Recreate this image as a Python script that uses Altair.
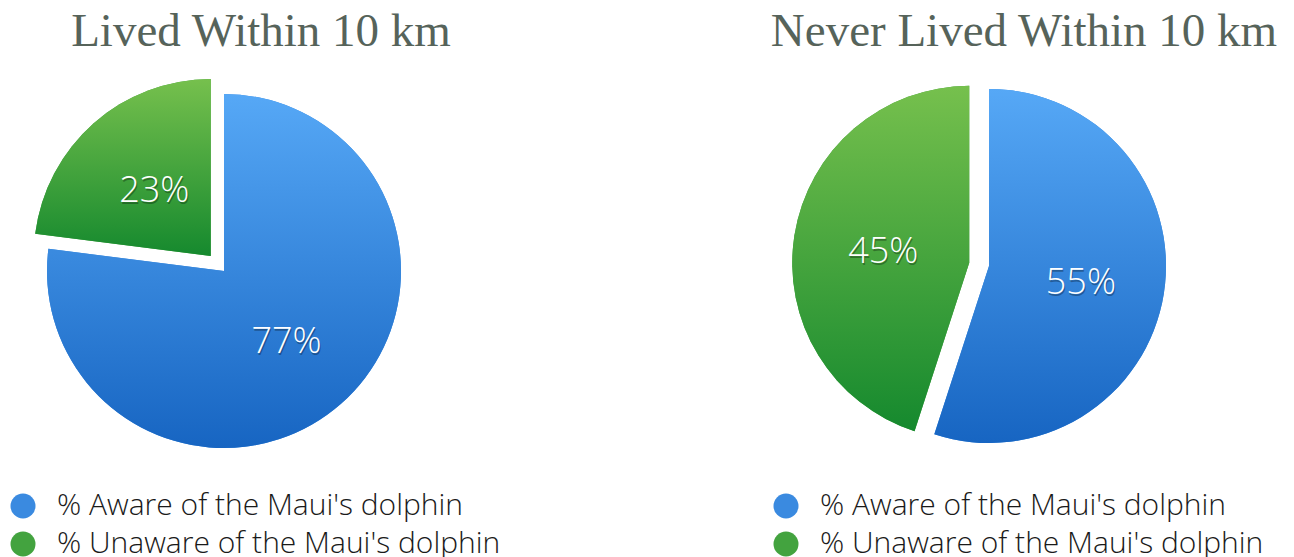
import altair as alt
import pandas as pd

# ---- data ----
panel_titles = ["Lived Within 10 km", "Never Lived Within 10 km"]
categories = ["% Aware of the Maui's dolphin", "% Unaware of the Maui's dolphin"]
lived_values = [77, 23]
never_values = [55, 45]

# ---- style / layout ----
R = 177
EXPLODE = 20
LABEL_R = 90
PANEL_W = 506
PANEL_H = 480
BLUE_TOP, BLUE_BOT, BLUE_MID = "#56a8f6", "#1765c2", "#3a8ae0"
GREEN_TOP, GREEN_BOT, GREEN_MID = "#76c04d", "#15892e", "#43a33f"
TITLE_COLOR = "#56635a"
LABEL_FONT = "Open Sans"


def grad(top, bot):
    return alt.LinearGradient(
        gradient="linear",
        stops=[alt.GradientStop(color=top, offset=0), alt.GradientStop(color=bot, offset=1)],
        x1=0, x2=0, y1=0, y2=1,
    )


def panel(title, values, cx, cy):
    df = pd.DataFrame({"category": categories, "value": values, "idx": list(range(len(values)))})
    base = (
        alt.Chart(df)
        .transform_window(cum="sum(value)", sort=[alt.SortField("idx")], frame=[None, 0])
        .transform_calculate(
            start="datum.cum - datum.value",
            midv="datum.cum - datum.value / 2",
            ang="(datum.cum - datum.value / 2) / 100 * 2 * PI",
            label="datum.value + '%'",
        )
        .transform_calculate(ex=f"datum.idx == 1 ? {EXPLODE} : 0")
        .transform_calculate(
            cx=f"{cx} + datum.ex * sin(datum.ang)",
            cy=f"{cy} - datum.ex * cos(datum.ang)",
        )
    )
    theta_scale = alt.Scale(domain=[0, 100])
    enc = dict(
        x=alt.X("cx:Q", scale=None),
        y=alt.Y("cy:Q", scale=None),
        theta=alt.Theta("start:Q", scale=theta_scale, stack=False),
        theta2="cum:Q",
    )
    flat = base.mark_arc(radius=R).encode(
        color=alt.Color(
            "category:N",
            scale=alt.Scale(domain=categories, range=[BLUE_MID, GREEN_MID]),
            legend=alt.Legend(
                orient="none", legendX=0, legendY=431, title=None,
                labelFont=LABEL_FONT, labelFontWeight=300, labelFontSize=30,
                labelColor="#1a1a1a", labelLimit=700, labelOffset=19,
                symbolType="circle", symbolSize=625, symbolStrokeWidth=0,
                rowPadding=8, padding=0,
            ),
        ),
        **enc,
    )
    blue = base.transform_filter("datum.idx == 0").mark_arc(radius=R, fill=grad(BLUE_TOP, BLUE_BOT)).encode(**enc)
    green = base.transform_filter("datum.idx == 1").mark_arc(radius=R, fill=grad(GREEN_TOP, GREEN_BOT)).encode(**enc)
    tenc = dict(
        x=alt.X("cx:Q", scale=None),
        y=alt.Y("cy:Q", scale=None),
        theta=alt.Theta("midv:Q", scale=theta_scale, stack=False),
        text="label:N",
    )
    shadow = base.mark_text(
        radius=LABEL_R, font=LABEL_FONT, fontWeight=300, fontSize=36,
        color="black", opacity=0.3, dx=4, dy=5,
    ).encode(**tenc)
    labels = base.mark_text(
        radius=LABEL_R, font=LABEL_FONT, fontWeight=300, fontSize=36, color="white",
        dx=3, dy=3,
    ).encode(**tenc)
    return alt.layer(flat, blue, green, shadow, labels).properties(
        width=PANEL_W,
        height=PANEL_H,
        title=alt.TitleParams(
            title, font="Liberation Serif", fontSize=47, fontWeight="normal",
            color=TITLE_COLOR, anchor="middle", offset=6, dy=2,
        ),
    )


left = panel(panel_titles[0], lived_values, 216, 211)
right = panel(panel_titles[1], never_values, 218, 206)

chart = (
    alt.hconcat(left, right, spacing=256)
    .resolve_scale(color="independent")
    .resolve_legend(color="independent")
    .properties(padding=0, background="white")
    .configure_view(stroke=None)
)

chart.save("out.html", embed_options={"renderer": "svg", "actions": False})
